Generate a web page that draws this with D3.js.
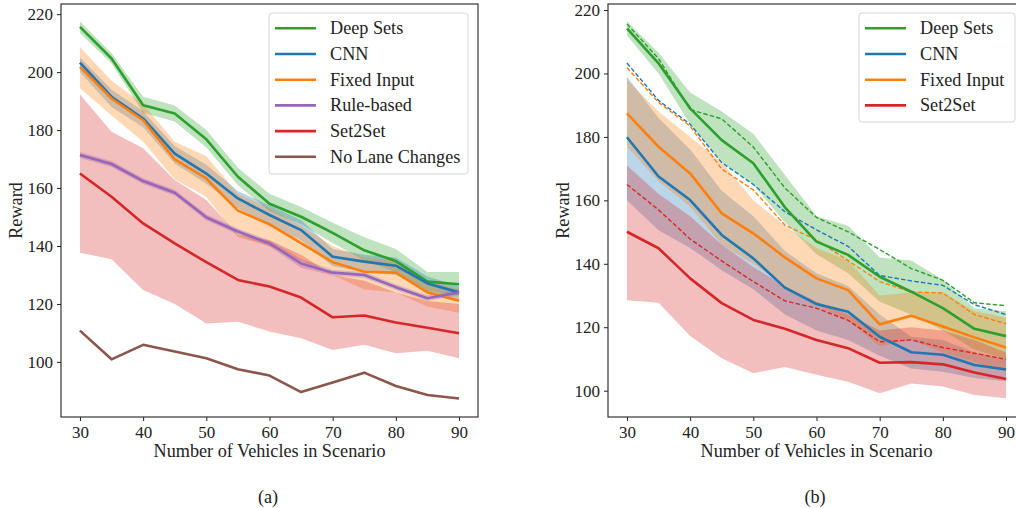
<!DOCTYPE html>
<html><head><meta charset="utf-8">
<script src="https://cdn.jsdelivr.net/npm/d3@7"></script>
<style>
html,body{margin:0;padding:0;background:#fff;}
svg text{font-family:"Liberation Serif","Times New Roman",serif;fill:#222;}
</style></head>
<body><svg id="c" width="1016" height="508"></svg>
<script>
// ---------- DATA ----------
const vehicles = [30,35,40,45,50,55,60,65,70,75,80,85,90];
const xTicks = [30,40,50,60,70,80,90];
const yTicks = [100,120,140,160,180,200,220];

// Panel (a)
const deepSetsA      = [215.6,204.7,188.6,185.7,176.8,163.9,154.6,150.1,144.5,138.5,134.8,127.7,126.8];
const deepSetsA_hi   = [217.5,206.5,191.5,188.5,180,167,158,153.5,148,143,139,131,131];
const deepSetsA_lo   = [213.5,203,186,183,174,161,152,147.5,141,135,131,124.5,123];
const cnnA           = [203.3,191.5,184,171.9,165,156.4,150.7,145.5,136.3,134.6,133.2,127.1,124];
const cnnA_hi        = [205,194,186.5,174.5,168,159,154,149,139,137,136,129.5,126];
const cnnA_lo        = [200,188,181,168.5,161.5,153,147,142,133,131,130,124.5,121];
const fixedA         = [201.8,190.9,183.4,169.9,163.3,152.2,147.5,141,134.4,131.1,130.8,124,121.1];
const fixedA_hi      = [208.7,197,189,176,171,158,153,147,140,136,135,128,125];
const fixedA_lo      = [194.4,185,176,163,157,143,140,135,130,125,124,119,117];
const ruleA          = [171.4,168.3,162.4,158.4,149.9,145,140.9,134,130.8,130,125.8,122,124];
const ruleA_hi       = [172.4,169.3,163.4,159.4,150.9,146,142,135.5,131.8,131,126.8,123,125];
const ruleA_lo       = [170.4,167.3,161.4,157.4,148.9,144,139.8,132.5,129.8,129,124.8,121,123];
const set2setA       = [165,157,147.8,140.9,134.4,128.3,126,122.2,115.4,116,113.6,111.8,109.9];
const set2setA_hi    = [192.3,179.4,173.7,162.8,155.9,144,142,137,130,128,124,121,120];
const set2setA_lo    = [137.7,135.4,124.8,120,113.3,113.9,110.5,108.2,104.1,105.9,103,103.9,101.3];
const noLaneA        = [110.8,100.9,105.9,103.6,101.3,97.5,95.3,89.6,92.9,96.3,91.7,88.6,87.4];

// Panel (b)
const deepSetsB      = [214.2,203.2,189,179,171.7,157.8,147,142.8,135.9,131.2,126,119.5,117.2];
const deepSetsB_hi   = [216.5,206.5,194,188,181,168,155,152,142,141,135,126,125];
const deepSetsB_lo   = [212,200,184,172,165,153,143,137,128,124,119,113,110];
const cnnB           = [179.9,167.5,160.1,149.1,141.7,132.5,127.3,124.9,117,112.1,111.3,108.1,106.7];
const cnnB_hi        = [199,186,176,163,155,144,137,133,124,117,116,112,110];
const cnnB_lo        = [160,150.6,145,138,132,124,119,116,111,107,106,104,103];
const fixedB         = [187.4,176.9,168.5,155.9,149.6,142,135.4,131.7,120.9,123.6,120.2,116.8,113.6];
const fixedB_hi      = [198,188,180,172,160,152,145,141,130,131,131,125,123];
const fixedB_lo      = [177,166,158,146,140,133,127,122,114,116,112,109,106];
const set2setB       = [150.1,144.9,135.4,127.6,122.3,119.5,116,113.4,108.8,109,108.3,105.7,103.7];
const set2setB_hi    = [171,162,155,146,139,133,128,124,119,120,119,116,112];
const set2setB_lo    = [128.5,127.7,117.2,110.2,105.5,107.5,105,102.8,99.2,102.3,101.3,98.6,97.6];

const colors = {deep:"#2ca02c", cnn:"#1f77b4", fixed:"#ff7f0e", rule:"#9467bd", s2s:"#d62728", nolane:"#8c564b"};

// ---------- DRAW ----------
const svg = d3.select("#c");
const plotTop = 4, plotBottom = 417;
const labelSize = "18.2px", tickSize = "17px";

function panel(x0, x1, yDom, series, dashed, legendItems, legendBox, label) {
  const g = svg.append("g");
  const x = d3.scaleLinear().domain([27,93]).range([x0,x1]);
  const y = d3.scaleLinear().domain(yDom).range([plotBottom,plotTop]);
  const clipId = "clip"+label;
  svg.append("clipPath").attr("id",clipId).append("rect")
     .attr("x",x0).attr("y",plotTop).attr("width",x1-x0).attr("height",plotBottom-plotTop);
  const plot = g.append("g").attr("clip-path",`url(#${clipId})`);
  const area = d3.area().x((d,i)=>x(vehicles[i])).y0(d=>y(d[0])).y1(d=>y(d[1]));
  const line = d3.line().x((d,i)=>x(vehicles[i])).y(d=>y(d));
  series.forEach(s=>{
    if (s.lo) {
      plot.append("path").attr("d", area(s.lo.map((v,i)=>[v,s.hi[i]])))
        .attr("fill", s.color).attr("fill-opacity",0.3).attr("stroke","none");
    }
  });
  dashed.forEach(s=>{
    plot.append("path").attr("d", line(s.values)).attr("fill","none")
      .attr("stroke", s.color).attr("stroke-width",1.4).attr("stroke-dasharray","4.5,2.2");
  });
  series.forEach(s=>{
    plot.append("path").attr("d", line(s.mean)).attr("fill","none")
      .attr("stroke", s.color).attr("stroke-width",2.6).attr("stroke-linejoin","round");
  });
  const ax = g.append("g").attr("transform",`translate(0,${plotBottom})`)
    .call(d3.axisBottom(x).tickValues(xTicks).tickSize(4).tickPadding(5).tickFormat(d3.format("d")));
  const ay = g.append("g").attr("transform",`translate(${x0},0)`)
    .call(d3.axisLeft(y).tickValues(yTicks).tickSize(4).tickPadding(4).tickFormat(d3.format("d")));
  [ax,ay].forEach(a=>{
    a.select(".domain").remove();
    a.selectAll("line").attr("stroke","#222").attr("stroke-width",1);
    a.selectAll("text").style("font-size",tickSize).attr("fill","#222");
  });
  g.append("rect").attr("x",x0).attr("y",plotTop).attr("width",x1-x0).attr("height",plotBottom-plotTop)
    .attr("fill","none").attr("stroke","#222").attr("stroke-width",1.1);
  g.append("text").attr("x",(x0+x1)/2).attr("y",457).attr("text-anchor","middle")
    .style("font-size",labelSize).text("Number of Vehicles in Scenario");
  g.append("text").attr("transform",`translate(${x0-45},${(plotTop+plotBottom)/2}) rotate(-90)`)
    .attr("text-anchor","middle").attr("dy","0.35em").style("font-size",labelSize).text("Reward");
  const lg = g.append("g");
  lg.append("rect").attr("x",legendBox.x).attr("y",legendBox.y).attr("width",legendBox.w).attr("height",legendBox.h)
    .attr("rx",3).attr("fill","#fff").attr("fill-opacity",0.8).attr("stroke","#d6d6d6").attr("stroke-width",1);
  legendItems.forEach((it,i)=>{
    const yy = legendBox.y + 15.3 + i*25.7;
    lg.append("line").attr("x1",legendBox.x+6).attr("x2",legendBox.x+47).attr("y1",yy).attr("y2",yy)
      .attr("stroke",it.color).attr("stroke-width",2.6);
    lg.append("text").attr("x",legendBox.x+61).attr("y",yy).attr("dy","0.33em")
      .style("font-size",labelSize).text(it.name);
  });
}

panel(61, 478, [81,223.5],
  [
    {mean:deepSetsA, hi:deepSetsA_hi, lo:deepSetsA_lo, color:colors.deep},
    {mean:cnnA, hi:cnnA_hi, lo:cnnA_lo, color:colors.cnn},
    {mean:fixedA, hi:fixedA_hi, lo:fixedA_lo, color:colors.fixed},
    {mean:ruleA, hi:ruleA_hi, lo:ruleA_lo, color:colors.rule},
    {mean:set2setA, hi:set2setA_hi, lo:set2setA_lo, color:colors.s2s},
    {mean:noLaneA, color:colors.nolane}
  ], [],
  [{name:"Deep Sets",color:colors.deep},{name:"CNN",color:colors.cnn},{name:"Fixed Input",color:colors.fixed},
   {name:"Rule-based",color:colors.rule},{name:"Set2Set",color:colors.s2s},{name:"No Lane Changes",color:colors.nolane}],
  {x:269,y:13,w:199,h:161}, "a");

panel(608, 1025, [91.7,221.9],
  [
    {mean:deepSetsB, hi:deepSetsB_hi, lo:deepSetsB_lo, color:colors.deep},
    {mean:cnnB, hi:cnnB_hi, lo:cnnB_lo, color:colors.cnn},
    {mean:fixedB, hi:fixedB_hi, lo:fixedB_lo, color:colors.fixed},
    {mean:set2setB, hi:set2setB_hi, lo:set2setB_lo, color:colors.s2s}
  ],
  [
    {values:deepSetsA, color:colors.deep},
    {values:cnnA, color:colors.cnn},
    {values:fixedA, color:colors.fixed},
    {values:set2setA, color:colors.s2s}
  ],
  [{name:"Deep Sets",color:colors.deep},{name:"CNN",color:colors.cnn},{name:"Fixed Input",color:colors.fixed},
   {name:"Set2Set",color:colors.s2s}],
  {x:859,y:13,w:156,h:109}, "b");

svg.append("text").attr("x",268).attr("y",503).attr("text-anchor","middle").style("font-size",labelSize).text("(a)");
svg.append("text").attr("x",815).attr("y",503).attr("text-anchor","middle").style("font-size",labelSize).text("(b)");
</script>
</body></html>
